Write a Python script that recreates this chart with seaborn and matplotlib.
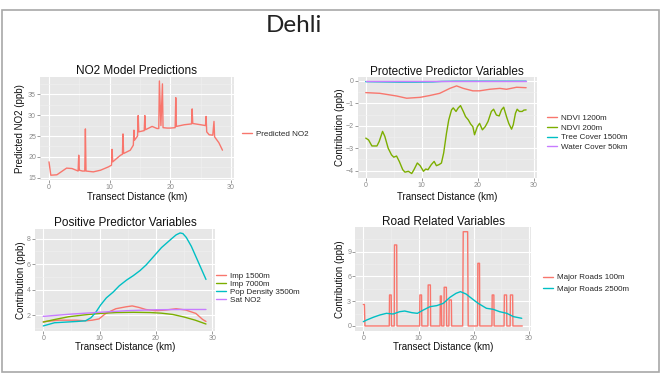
import numpy as np
import pandas as pd
import matplotlib
matplotlib.use("Agg")
import matplotlib.pyplot as plt
import seaborn as sns
from matplotlib.patches import Rectangle
from matplotlib.ticker import MultipleLocator

# ---------------- data ----------------
no2_x = [0.0, 0.3, 1.3, 2.2, 2.9, 3.8, 4.8, 4.9, 5.0, 5.5, 5.9, 6.0, 6.1, 7.3, 8.5, 9.8,
         10.3, 10.4, 10.5, 11.8, 12.1, 12.2, 12.3, 13.4, 13.9, 14.0, 14.1, 14.6, 14.7, 14.8,
         15.7, 15.8, 15.9, 17.0, 17.8, 18.1, 18.2, 18.45, 18.7, 18.8, 19.5, 20.0, 20.8, 20.9,
         21.0, 22.3, 23.5, 23.6, 23.7, 25.0, 25.8, 25.9, 26.0, 26.4, 27.0, 27.2, 27.3, 28.0, 28.6]
no2_y = [18.8, 15.6, 15.7, 16.6, 17.3, 17.2, 16.6, 20.4, 16.8, 16.6, 16.6, 26.7, 16.6, 16.4, 16.8, 17.6,
         18.0, 21.8, 18.8, 20.4, 20.6, 25.5, 20.8, 21.6, 22.8, 26.4, 24.0, 25.0, 29.9, 26.0,
         26.3, 29.9, 26.5, 27.3, 26.8, 26.8, 38.2, 27.5, 37.5, 27.0, 26.9, 26.9, 27.0, 34.2,
         27.3, 27.7, 27.9, 31.5, 28.0, 27.7, 27.5, 29.7, 26.0, 25.3, 25.2, 28.5, 24.8, 23.4, 21.6]

ndvi1200_x = [0, 2.5, 5.5, 7.3, 9.7, 11.4, 13.2, 15.0, 16.2, 17.4, 19.1, 20.3, 22.1, 23.9, 25.1, 26.9, 28.6]
ndvi1200_y = [-0.52, -0.55, -0.67, -0.77, -0.73, -0.65, -0.55, -0.33, -0.22, -0.33, -0.44, -0.44,
              -0.37, -0.33, -0.37, -0.28, -0.3]
ndvi200_x = [0, 0.5, 1.1, 2.0, 2.4, 3.0, 3.4, 4.0, 4.6, 5.0, 5.5, 6.0, 6.6, 7.0, 7.6, 8.2, 8.6, 9.2,
             9.7, 10.3, 10.7, 11.1, 11.7, 12.2, 12.6, 13.1, 13.5, 13.9, 14.4, 14.8, 15.3, 15.6, 16.1,
             16.5, 16.9, 17.4, 17.8, 18.3, 18.7, 19.1, 19.4, 19.9, 20.3, 20.8, 21.3, 21.8, 22.4,
             22.8, 23.3, 23.8, 24.2, 24.6, 25.1, 25.5, 26.0, 26.3, 26.7, 27.0, 27.4, 27.9, 28.2, 28.6]
ndvi200_y = [-2.55, -2.63, -2.9, -2.9, -2.7, -2.25, -2.47, -3.0, -3.3, -3.4, -3.35, -3.6, -3.96, -4.07,
             -4.03, -4.13, -3.96, -3.66, -3.78, -4.03, -3.93, -3.96, -3.73, -3.59, -3.78, -3.73, -3.66,
             -3.21, -2.33, -1.74, -1.29, -1.2, -1.36, -1.2, -1.1, -1.36, -1.59, -1.74, -1.92, -2.04,
             -2.4, -2.04, -1.89, -2.18, -2.04, -1.81, -1.36, -1.26, -1.52, -1.56, -1.29, -1.17, -1.59,
             -1.89, -2.15, -1.96, -1.44, -1.26, -1.36, -1.36, -1.3, -1.29]
tree_x = [0, 3, 6, 9, 12, 13.5, 16, 20, 24, 28.6]
tree_y = [-0.03, -0.04, -0.05, -0.05, -0.04, -0.02, -0.01, -0.01, -0.01, -0.01]
water_x = [0, 28.6]
water_y = [0.0, 0.0]

imp1500_x = [0, 2.8, 5.8, 7.5, 8.7, 9.9, 11.1, 12.9, 14.7, 15.8, 17.0, 18.2, 20.0, 21.8, 23.6, 25.3, 27.1, 28.3, 28.9]
imp1500_y = [1.48, 1.6, 1.6, 1.55, 1.6, 1.7, 2.13, 2.5, 2.65, 2.72, 2.6, 2.44, 2.34, 2.4, 2.5, 2.4, 2.13, 1.66, 1.5]
imp7000_x = [0, 2, 4.5, 7, 10, 13, 16, 19, 21, 23, 25, 27, 28.9]
imp7000_y = [1.45, 1.65, 1.87, 2.0, 2.13, 2.2, 2.22, 2.2, 2.15, 2.05, 1.85, 1.6, 1.3]
pop_x = [0, 2, 4, 6, 7.5, 8.5, 9.3, 10.2, 11.2, 12.4, 13.5, 14.8, 16, 17.2, 18.3, 19.2, 20.1, 21.0,
         21.9, 22.8, 23.6, 24.3, 24.8, 25.4, 26.3, 27.2, 28.1, 28.9]
pop_y = [1.15, 1.4, 1.45, 1.5, 1.55, 1.8, 2.2, 2.8, 3.35, 3.8, 4.3, 4.75, 5.1, 5.5, 5.95, 6.4, 6.85, 7.3,
         7.65, 8.0, 8.3, 8.45, 8.4, 8.1, 7.4, 6.5, 5.6, 4.8]
satno2_x = [0, 5, 10, 15, 20, 25, 28.9]
satno2_y = [1.9, 2.08, 2.22, 2.35, 2.42, 2.44, 2.44]

road100_x = [0.0, 0.2, 0.3, 4.7, 4.75, 5.05, 5.1, 5.6, 5.65, 6.05, 6.1, 10.2, 10.25, 10.55, 10.6,
             11.7, 11.75, 12.15, 12.2, 13.9, 13.95, 14.15, 14.2, 14.6, 14.65, 15.05, 15.1, 15.5,
             15.55, 15.95, 16.0, 18.0, 18.1, 18.9, 19.0, 20.7, 20.75, 21.05, 21.1, 23.3, 23.35,
             23.65, 23.7, 25.5, 25.55, 25.95, 26.0, 26.6, 26.65, 27.05, 27.1, 28.8]
road100_y = [2.6, 2.6, 0, 0, 3.75, 3.75, 0, 0, 9.8, 9.8, 0, 0, 3.75, 3.75, 0,
             0, 4.96, 4.96, 0, 0, 3.63, 3.63, 0, 0, 4.68, 4.68, 0, 0,
             3.15, 3.15, 0, 0, 11.4, 11.4, 0, 0, 7.58, 7.58, 0, 0, 3.75,
             3.75, 0, 0, 3.75, 3.75, 0, 0, 3.75, 3.75, 0, 0]
road2500_x = [0, 0.6, 1.8, 3.0, 4.2, 5.4, 6.6, 7.5, 8.8, 9.8, 10.9, 12.1, 13.3, 14.5, 15.7, 16.8,
              17.6, 18.6, 19.6, 20.8, 22.3, 23.5, 24.7, 26.0, 27.2, 28.7]
road2500_y = [0.52, 0.72, 1.05, 1.33, 1.53, 1.45, 1.73, 1.81, 1.61, 1.53, 1.94, 2.34, 2.46, 2.74, 3.47,
              3.95, 4.15, 3.87, 3.35, 2.74, 2.14, 2.02, 1.73, 1.53, 1.13, 0.93]

# ---------------- style ----------------
sns.set_theme(style="darkgrid")
plt.rcParams["font.family"] = ["Liberation Sans", "DejaVu Sans"]

W, H = 663, 375
fig = plt.figure(figsize=(W / 100, H / 100), dpi=100)
fig.patch.set_facecolor("white")

RED, GREEN, CYAN, PURPLE = "#F8766D", "#7CAE00", "#00BFC4", "#C77CFF"
TICKC = "#8A8A8A"


def make_axes(l, r, t, b):
    ax = fig.add_axes([l / W, 1 - b / H, (r - l) / W, (b - t) / H])
    ax.set_facecolor("#E7E7E7")
    for s in ax.spines.values():
        s.set_visible(False)
    return ax, (l, r, t, b)


def style(ax, box, xlim, ylim, ymaj, ymin, title, title_y, ylabel, ylab_x, xlab_y):
    l, r, t, b = box
    ax.set_xlim(*xlim)
    ax.set_ylim(*ylim)
    ax.xaxis.set_major_locator(MultipleLocator(10))
    ax.xaxis.set_minor_locator(MultipleLocator(5))
    ax.yaxis.set_major_locator(MultipleLocator(ymaj))
    ax.yaxis.set_minor_locator(MultipleLocator(ymin))
    ax.grid(which="major", color="white", lw=0.8)
    ax.grid(which="minor", color="#F0F0F0", lw=0.4)
    ax.set_axisbelow(True)
    ax.tick_params(which="major", length=2, width=0.6, color=TICKC, labelcolor=TICKC,
                   labelsize=5, pad=1, bottom=True, left=True)
    ax.tick_params(which="minor", length=0)
    ax.set_title(title, fontsize=8.5, color="#111111", y=1 + (t - title_y) / (b - t), va="center", pad=0)
    ax.set_xlabel("Transect Distance (km)", fontsize=7, color="#111111")
    ax.set_ylabel(ylabel, fontsize=7, color="#111111")
    ax.xaxis.set_label_coords(0.5, (b - xlab_y) / (b - t))
    ax.yaxis.set_label_coords((ylab_x - l) / (r - l), 0.5)
    ax.xaxis.label.set_va("center")
    ax.yaxis.label.set_va("center")


def draw(ax, series, colors):
    frames = [pd.DataFrame({"x": x, "y": y, "series": name}) for name, (x, y) in series.items()]
    df = pd.concat(frames, ignore_index=True)
    names = list(series.keys())
    sns.lineplot(data=df, x="x", y="y", hue="series", hue_order=names, palette=colors,
                 estimator=None, sort=False, lw=1.0, ax=ax, legend="full")
    return names


def legend(ax, x, y, spacing):
    h, lab = ax.get_legend_handles_labels()
    ax.legend(h, lab, loc="center left", bbox_to_anchor=(x / W, 1 - y / H),
              bbox_transform=fig.transFigure, frameon=False, fontsize=5.8,
              handlelength=1.3, handletextpad=0.4, labelspacing=spacing,
              borderpad=0, borderaxespad=0)


XL = (-1.45, 30.45)

# Panel 1
ax1, b1 = make_axes(40.2, 233.7, 77, 180)
draw(ax1, {"Predicted NO2": (no2_x, no2_y)}, [RED])
style(ax1, b1, XL, (14.45, 39.15), 5, 2.5, "NO2 Model Predictions", 71,
      "Predicted NO2 (ppb)", 20, 196.7)
legend(ax1, 242, 134, 0.3)

# Panel 2
ax2, b2 = make_axes(357.6, 536.5, 76.5, 178)
draw(ax2, {"NDVI 1200m": (ndvi1200_x, ndvi1200_y), "NDVI 200m": (ndvi200_x, ndvi200_y),
           "Tree Cover 1500m": (tree_x, tree_y), "Water Cover 50km": (water_x, water_y)},
     [RED, GREEN, CYAN, PURPLE])
style(ax2, b2, XL, (-4.33, 0.2), 1, 0.5, "Protective Predictor Variables", 71.7,
      "Contribution (ppb)", 340, 196.7)
legend(ax2, 547, 132.8, 0.25)

# Panel 3
ax3, b3 = make_axes(35.1, 214.7, 229, 330.5)
draw(ax3, {"Imp 1500m": (imp1500_x, imp1500_y), "Imp 7000m": (imp7000_x, imp7000_y),
           "Pop Density 3500m": (pop_x, pop_y), "Sat NO2": (satno2_x, satno2_y)},
     [RED, GREEN, CYAN, PURPLE])
style(ax3, b3, XL, (0.79, 8.76), 2, 1, "Positive Predictor Variables", 222.7,
      "Contribution (ppb)", 20.7, 347)
legend(ax3, 216, 288, 0.05)

# Panel 4
ax4, b4 = make_axes(355.3, 531.4, 227, 330.7)
draw(ax4, {"Major Roads 100m": (road100_x, road100_y), "Major Roads 2500m": (road2500_x, road2500_y)},
     [RED, CYAN])
style(ax4, b4, XL, (-0.57, 11.97), 3, 1.5, "Road Related Variables", 222.3,
      "Contribution (ppb)", 340, 347)
legend(ax4, 543, 283.5, 0.5)

# Slide frame and title
fig.add_artist(Rectangle((2 / W, 1 - 372 / H), 657 / W, 362 / H, transform=fig.transFigure,
                         fill=False, ec="#A8A8A8", lw=1.2))
fig.text(294 / W, 1 - 25 / H, "Dehli", ha="center", va="center", fontsize=17.5,
         family=["Lato", "DejaVu Sans"], color="#222222")

fig.savefig("out.png", dpi=100)
